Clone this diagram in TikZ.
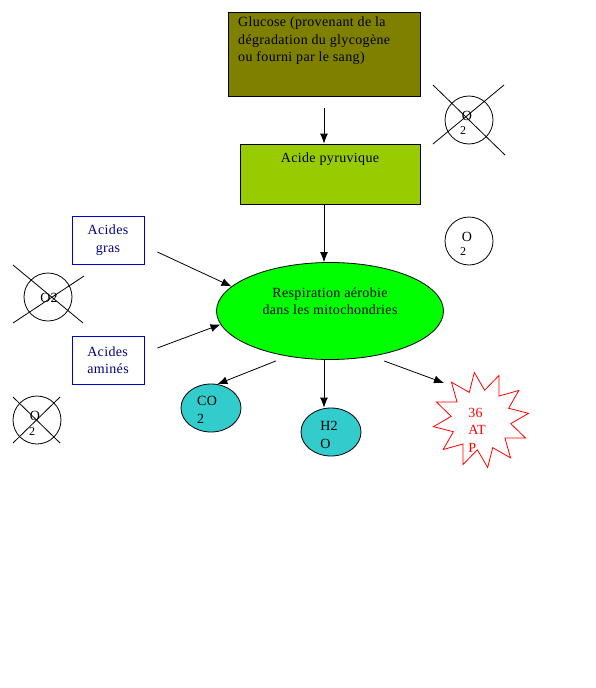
\documentclass[tikz,border=0pt]{standalone}
\usepackage{fontspec}
\setmainfont[LetterSpace=2.5]{Liberation Serif}
\usetikzlibrary{shapes.geometric,arrows.meta}

\definecolor{olivebox}{HTML}{808000}
\definecolor{pyruvbox}{HTML}{99CC00}
\definecolor{vertvif}{HTML}{00FF00}
\definecolor{turquoise}{HTML}{33CCCC}
\definecolor{bleuacide}{HTML}{000080}

\tikzset{
    texte/.style={font=\fontsize{14}{17.5}\selectfont},
    fleche/.style={-{Latex[length=10pt,width=8pt]},line width=0.8pt},
    rond/.style={draw,line width=0.8pt,circle,minimum size=48pt,inner sep=0pt},
    acide/.style={draw=blue!80!black,line width=0.8pt,fill=white,minimum width=72pt,minimum height=48pt,
        text=bleuacide,align=center,texte},
    produit/.style={draw,line width=0.8pt,fill=turquoise,ellipse,minimum width=60pt,minimum height=48pt,inner sep=0pt}
}

\begin{document}
\begin{tikzpicture}[x=1pt,y=-1pt]
        \useasboundingbox (0,0) rectangle (595,688);

        % boites du haut
        \node[draw,line width=0.8pt,fill=olivebox,minimum width=192pt,minimum height=84pt] (glucose) at (324,54) {};
        \node[texte,anchor=north west,align=left,inner sep=0pt] (glutxt) at (238,17)
            {Glucose (provenant de la\\dégradation du glycogène\\ou fourni par le sang)};
        \node[draw,line width=0.8pt,fill=pyruvbox,minimum width=180pt,minimum height=60pt] (pyruv) at (330,174) {};
        \node[texte] (pyrtxt) at (330,159) {Acide pyruvique};

        % respiration
        \node[draw,line width=0.8pt,fill=vertvif,ellipse,minimum width=227pt,minimum height=97pt] (resp) at (330,311) {};
        \node[texte,align=center] (resptxt) at (330,301) {Respiration aérobie\\dans les mitochondries};

        \node[acide] (gras) at (108,240) {Acides\\gras};
        \node[acide,align=left] (amines) at (108,360) {Acides\\aminés};

        % produits
        \node[produit] (co2) at (211,408) {};
        \node[texte,align=left] (co2txt) at (207,410) {CO\\2};
        \node[produit] (h2o) at (331,432) {};
        \node[texte,align=left] (h2otxt) at (329,435) {H2\\O};
        \node[star,star points=12,star point ratio=1.6,draw=red,line width=0.8pt,fill=white,minimum size=96pt,inner sep=0pt,rotate=8] (atp) at (481,420) {};
        \node[texte,align=left,text=red] (atptxt) at (477,430) {36\\AT\\P};

        % fleches
        \draw[fleche] ([shift={(0pt,-12pt)}]glucose.south) -- ([xshift=-6pt]pyruv.north);
        \draw[fleche] ([xshift=-6pt]pyruv.south) -- ([xshift=-6pt]resp.north);
        \draw[fleche] ([shift={(13pt,-12pt)}]gras.east) -- (resp.166);
        \draw[fleche] ([shift={(13pt,12pt)}]amines.east) -- (resp.187);
        \draw[fleche] ([shift={(-54pt,-1pt)}]resp.south) -- (co2.75);
        \draw[fleche] ([xshift=-6pt]resp.south) -- ([xshift=-7pt]h2o.north);
        \draw[fleche] ([shift={(54pt,-1pt)}]resp.south) -- (444,383);

        % O2
        \node[rond] (o2a) at (469,120) {};
        \draw[line width=0.8pt] (433,85) -- (505,155);
        \draw[line width=0.8pt] (504,85) -- (433,144);
        \node[texte] at (467,116) {O};
        \node[font=\fontsize{12}{12}\selectfont] at (463,131) {2};

        \node[rond] (o2b) at (469,241) {};
        \node[texte] at (467,237) {O};
        \node[font=\fontsize{12}{12}\selectfont] at (463,252) {2};

        \node[rond] (o2c) at (48,297) {};
        \draw[line width=0.8pt] (13,265) -- (83,323);
        \draw[line width=0.8pt] (84,276) -- (13,323);
        \node[texte] at (49,298) {O2};

        \node[rond] (o2d) at (37,420) {};
        \draw[line width=0.8pt] (13,397) -- (60,443);
        \draw[line width=0.8pt] (60,397) -- (13,443);
        \node[texte] at (35,416) {O};
        \node[font=\fontsize{12}{12}\selectfont] at (32,432) {2};

    \end{tikzpicture}
\end{document}
